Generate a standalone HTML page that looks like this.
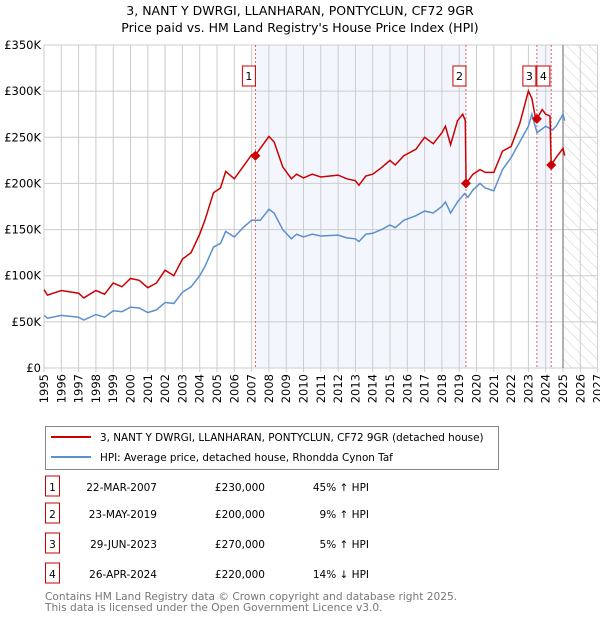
<!DOCTYPE html>
<html><head><meta charset="utf-8"><style>
body{margin:0;background:#fff;font-family:"DejaVu Sans","Liberation Sans",sans-serif;}
</style></head><body>
<svg width="600" height="620" xmlns="http://www.w3.org/2000/svg" font-family="DejaVu Sans, Liberation Sans, sans-serif">
<defs><pattern id="hatch" width="8" height="8" patternUnits="userSpaceOnUse" patternTransform="rotate(-45)"><line x1="0" y1="0" x2="0" y2="8" stroke="#ccc" stroke-width="1"/></pattern></defs>
<text x="300" y="15" text-anchor="middle" font-size="12.5">3, NANT Y DWRGI, LLANHARAN, PONTYCLUN, CF72 9GR</text>
<text x="300" y="32" text-anchor="middle" font-size="12.5">Price paid vs. HM Land Registry's House Price Index (HPI)</text>
<g id="plot"></g>
<g>
<rect x="45.5" y="426.5" width="453" height="43" fill="#fff" stroke="#888"/>
<line x1="51" y1="437" x2="91" y2="437" stroke="#cc0000" stroke-width="2"/>
<text x="100" y="441" font-size="10.4">3, NANT Y DWRGI, LLANHARAN, PONTYCLUN, CF72 9GR (detached house)</text>
<line x1="51" y1="457" x2="91" y2="457" stroke="#5b8fd0" stroke-width="2"/>
<text x="100" y="461" font-size="10.4">HPI: Average price, detached house, Rhondda Cynon Taf</text>
</g>
<g id="table" font-size="10.5"></g>
<text x="45" y="600" font-size="10.6" fill="#777">Contains HM Land Registry data © Crown copyright and database right 2025.</text>
<text x="45" y="611" font-size="10.6" fill="#777">This data is licensed under the Open Government Licence v3.0.</text>
</svg>
<script>
const hpiYears=[1995,1995.2,1996,1997,1997.3,1998,1998.5,1999,1999.5,2000,2000.5,2001,2001.5,2002,2002.5,2003,2003.5,2004,2004.3,2004.8,2005.2,2005.5,2006,2006.5,2007,2007.5,2008,2008.3,2008.8,2009.3,2009.6,2010,2010.5,2011,2012,2012.5,2013,2013.2,2013.6,2014,2014.5,2015,2015.3,2015.8,2016.5,2017,2017.5,2018,2018.2,2018.5,2018.9,2019.3,2019.5,2019.8,2020.2,2020.5,2021,2021.5,2022,2022.5,2023,2023.2,2023.5,2024,2024.4,2024.6,2025,2025.1];
const hpiValues=[57,54,57,55,52,58,55,62,61,66,65,60,63,71,70,82,88,100,110,131,135,148,142,152,160,160,172,168,150,140,145,142,145,143,144,141,140,137,145,146,150,155,152,160,165,170,168,175,180,168,180,189,185,193,200,195,192,215,228,245,262,275,255,262,258,262,275,268];
const propYears=[1995,1995.2,1996,1997,1997.3,1998,1998.5,1999,1999.5,2000,2000.5,2001,2001.5,2002,2002.5,2003,2003.5,2004,2004.3,2004.8,2005.2,2005.5,2006,2006.5,2007,2007.2,2008,2008.3,2008.8,2009.3,2009.6,2010,2010.5,2011,2012,2012.5,2013,2013.2,2013.6,2014,2014.5,2015,2015.3,2015.8,2016.5,2017,2017.5,2018,2018.2,2018.5,2018.9,2019.2,2019.35,2019.4,2019.8,2020.2,2020.5,2021,2021.5,2022,2022.5,2023,2023.2,2023.4,2023.5,2023.8,2024,2024.25,2024.32,2024.6,2025,2025.1];
const propValues=[85,79,84,81,76,84,80,92,88,97,95,87,92,106,100,118,125,145,160,190,195,213,205,218,231,230,251,245,218,205,210,206,210,207,209,205,203,198,208,210,217,225,220,230,237,250,243,255,262,242,268,275,268,200,210,215,212,212,235,240,265,300,292,272,270,280,275,273,220,228,238,230];
const saleLabels=["1","2","3","4"];
const saleYears=[2007.22,2019.39,2023.49,2024.32];
const salePrices=[230,200,270,220];
const saleDates=["22-MAR-2007","23-MAY-2019","29-JUN-2023","26-APR-2024"];
const salePriceText=["£230,000","£200,000","£270,000","£220,000"];
const saleHpiText=["45% ↑ HPI","9% ↑ HPI","5% ↑ HPI","14% ↓ HPI"];
const yTicks=[0,50,100,150,200,250,300,350];
const yTickLabels=["£0","£50K","£100K","£150K","£200K","£250K","£300K","£350K"];
const xTicks=[];for(let y=1995;y<=2027;y++)xTicks.push(y);

const X0=44,X1=597.6,Y0=368,Y1=45;
const sx=y=>X0+(y-1995)/(2027-1995)*(X1-X0);
const sy=v=>Y0-v/350*(Y0-Y1);
const NS="http://www.w3.org/2000/svg";
function mk(p,t,a){const e=document.createElementNS(NS,t);for(const k in a)e.setAttribute(k,a[k]);p.appendChild(e);return e;}
const plot=document.getElementById('plot');
let r=mk(plot,'rect',{x:sx(saleYears[0]),y:Y1,width:sx(saleYears[1])-sx(saleYears[0]),height:Y0-Y1,fill:'#eef3fc',opacity:0.7});


r=mk(plot,'rect',{x:sx(saleYears[2]),y:Y1,width:sx(saleYears[3])-sx(saleYears[2]),height:Y0-Y1,fill:'#eef3fc',opacity:0.7});


r=mk(plot,'rect',{x:sx(2025),y:Y1,width:X1-sx(2025),height:Y0-Y1,fill:'url(#hatch)'});


xTicks.forEach(t=>{const l=mk(plot,'line',{x1:sx(t),x2:sx(t),y1:Y1,y2:Y0+4,stroke:'#ccc','stroke-width':1});


const tx=mk(plot,'text',{x:0,y:0,'font-size':11.5,'text-anchor':'end',transform:`translate(${sx(t)+4},${Y0+6}) rotate(-90)`});tx.textContent=t;

});
yTicks.forEach((t,i)=>{const l=mk(plot,'line',{x1:X0,x2:X1,y1:sy(t),y2:sy(t),stroke:'#ccc','stroke-width':1});


const tx=mk(plot,'text',{x:X0-3,y:sy(t)+4,'font-size':11.5,'text-anchor':'end'});tx.textContent=yTickLabels[i];

});
const nl=mk(plot,'line',{x1:sx(2025),x2:sx(2025),y1:Y1,y2:Y0,stroke:'#999','stroke-width':1.5});


const boxOff=[-13,-13,-14,-0.5];
saleYears.forEach((y,i)=>{const l=mk(plot,'line',{x1:sx(y),x2:sx(y),y1:Y1,y2:Y0,stroke:'#e06060','stroke-width':1,'stroke-dasharray':'2,2'});


let bx=sx(y)+boxOff[i];
if(i==3)bx=sx(saleYears[2])+boxOff[2]+14;
const b=mk(plot,'rect',{x:bx,y:66,width:13,height:20,fill:'#fff',stroke:'#cc0000'});


const t=mk(plot,'text',{x:bx+6.5,y:80,'font-size':11,'text-anchor':'middle'});t.textContent=saleLabels[i];

});
function line(xs,vs,c,n){const d=xs.map((x,i)=>(i?'L':'M')+sx(x).toFixed(1)+','+sy(vs[i]).toFixed(1)).join('');
const p=mk(plot,'path',{d:d,fill:'none',stroke:c,'stroke-width':1.5});

}
line(hpiYears,hpiValues,'#5b8fd0','hpi-line');
line(propYears,propValues,'#cc0000','property-line');
saleYears.forEach((y,i)=>{const c=mk(plot,'path',{d:`M${sx(y)},${sy(salePrices[i])-5}l5,5l-5,5l-5,-5z`,fill:'#cc0000'});

});
const tb=document.getElementById('table');
const rowY=[487,514,544,574];
saleLabels.forEach((s,i)=>{const y=rowY[i];
const b=mk(tb,'rect',{x:45.5,y:y-11,width:14,height:20,fill:'#fff',stroke:'#cc0000'});


const vals=[[s,52.5,'middle'],[saleDates[i],157,'end'],[salePriceText[i],265,'end'],[saleHpiText[i],369,'end']];
vals.forEach(v=>{const t=mk(tb,'text',{x:v[1],y:y+4,'text-anchor':v[2]});t.textContent=v[0];

});});
</script>
</body></html>
